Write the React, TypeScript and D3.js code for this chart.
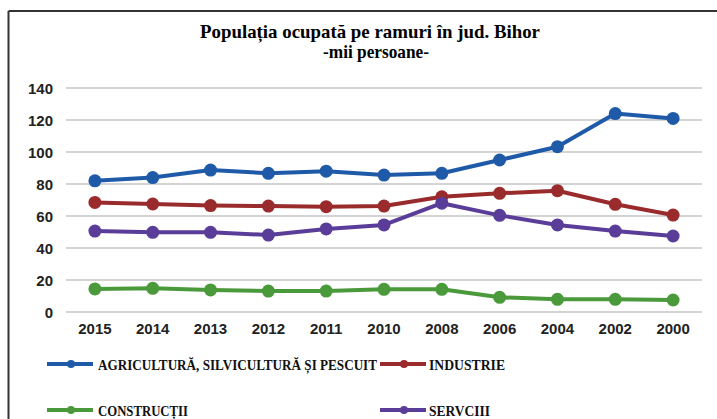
import React from "react";
import * as d3 from "d3";

const years = ["2015", "2014", "2013", "2012", "2011", "2010", "2008", "2006", "2004", "2002", "2000"];
const agricultura = [82, 84, 88.7, 86.7, 88, 85.6, 86.7, 95, 103.3, 124, 121];
const industrie = [68.5, 67.5, 66.5, 66.2, 65.8, 66.2, 72, 74.2, 75.8, 67.3, 60.6];
const constructii = [14.4, 14.8, 13.8, 13.1, 13.1, 14.2, 14.2, 9.2, 7.9, 7.9, 7.5];
const servicii = [50.6, 49.8, 49.8, 48.1, 51.9, 54.4, 68, 60.4, 54.4, 50.6, 47.5];
const yTicks = [0, 20, 40, 60, 80, 100, 120, 140];
const seriesNames = ["AGRICULTURĂ, SILVICULTURĂ ȘI PESCUIT", "INDUSTRIE", "CONSTRUCȚII", "SERVCIII"];
const titleLines = ["Populația ocupată pe ramuri în jud. Bihor", "-mii persoane-"];

const colors = ["#1f5aa8", "#9a2b2c", "#4a9a3b", "#5a3d98"];

export default function App() {
  const W = 717, H = 419;
  const x = d3.scaleBand<string>().domain(years).range([66, 702]).padding(0);
  const cx = (d: string) => (x(d) as number) + x.bandwidth() / 2;
  const y = d3.scaleLinear().domain([0, 140]).range([312, 88]);
  const series = [agricultura, industrie, constructii, servicii];
  const line = d3.line<number>().x((_, i) => cx(years[i])).y((v) => y(v));

  const legendPos = [
    { lx: 47, tx: 98, ly: 364, tw: 279 },
    { lx: 380, tx: 429, ly: 364, tw: 76 },
    { lx: 47, tx: 98, ly: 410, tw: 90 },
    { lx: 380, tx: 429, ly: 410, tw: 61 },
  ];

  return (
    <svg width={W} height={H} style={{ position: "absolute", left: 0, top: 0, background: "#fff" }}>
      <rect x={0} y={0} width={W} height={H} fill="#fff" />
      <line x1={8.5} x2={W} y1={11} y2={11} stroke="#333" strokeWidth={2} />
      <line x1={8.5} x2={8.5} y1={11} y2={H} stroke="#333" strokeWidth={2} />
      <text x={370} y={38} textAnchor="middle" fontFamily="'Liberation Serif', serif" fontWeight="bold" fontSize={19} textLength={340} lengthAdjust="spacingAndGlyphs" fill="#000">{titleLines[0]}</text>
      <text x={376} y={58} textAnchor="middle" fontFamily="'Liberation Serif', serif" fontWeight="bold" fontSize={19} textLength={106} lengthAdjust="spacingAndGlyphs" fill="#000">{titleLines[1]}</text>
      {yTicks.map((t) => (
        <g key={t}>
          <line x1={66} x2={702} y1={y(t)} y2={y(t)} stroke="#c4c4c4" strokeWidth={1.5} />
          <text x={53} y={y(t) + 6} textAnchor="end" fontFamily="'Liberation Sans', Arial, sans-serif" fontWeight="bold" fontSize={15} fill="#222">{t}</text>
        </g>
      ))}
      {years.map((yr) => (
        <text key={yr} x={cx(yr)} y={334} textAnchor="middle" fontFamily="'Liberation Sans Narrow', 'Liberation Sans', sans-serif" fontWeight="bold" fontSize={15} fill="#222">{yr}</text>
      ))}
      {series.map((s, si) => (
        <g key={si}>
          <path d={line(s) as string} fill="none" stroke={colors[si]} strokeWidth={4} strokeLinejoin="round" />
          {s.map((v, i) => (
            <circle key={i} cx={cx(years[i])} cy={y(v)} r={6.5} fill={colors[si]} />
          ))}
        </g>
      ))}
      {seriesNames.map((n, i) => {
        const p = legendPos[i];
        return (
          <g key={n}>
            <line x1={p.lx} x2={p.lx + 46} y1={p.ly} y2={p.ly} stroke={colors[i]} strokeWidth={4} />
            <circle cx={p.lx + 24} cy={p.ly} r={4} fill={colors[i]} />
            <text x={p.tx} y={p.ly + 5.5} fontFamily="'Liberation Serif', serif" fontWeight="bold" fontSize={15} textLength={p.tw} lengthAdjust="spacingAndGlyphs" fill="#111">{n}</text>
          </g>
        );
      })}
    </svg>
  );
}
